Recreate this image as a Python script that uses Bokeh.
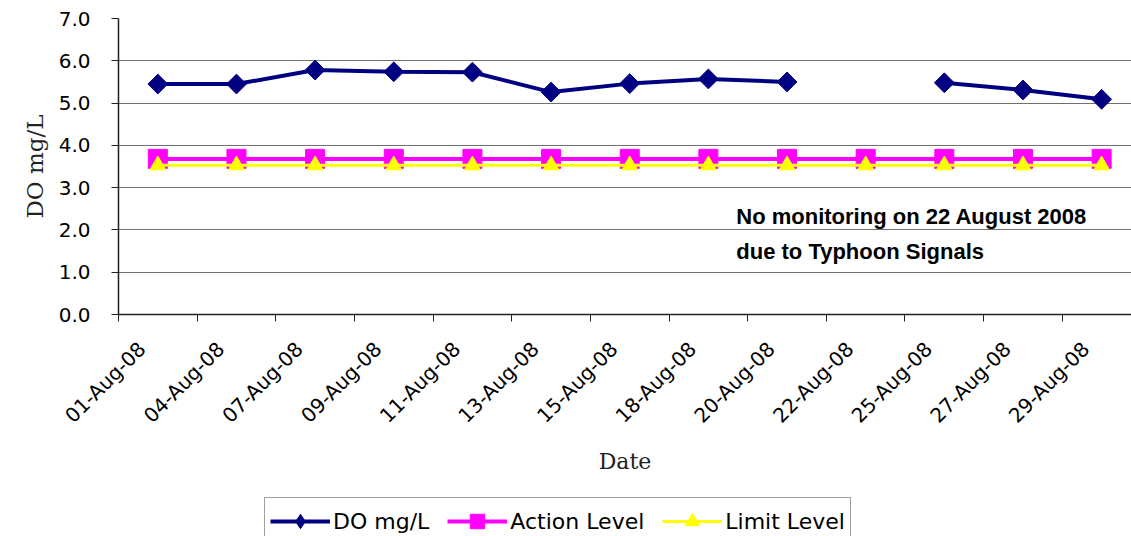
import math
from bokeh.plotting import figure
from bokeh.layouts import column
from bokeh.models import Range1d, FixedTicker, Legend, LegendItem, Label
from bokeh.embed import file_html
from bokeh.resources import INLINE

# ---- data ----
dates = ["01-Aug-08", "04-Aug-08", "07-Aug-08", "09-Aug-08", "11-Aug-08",
         "13-Aug-08", "15-Aug-08", "18-Aug-08", "20-Aug-08", "22-Aug-08",
         "25-Aug-08", "27-Aug-08", "29-Aug-08"]
do_values = [5.45, 5.45, 5.78, 5.74, 5.73, 5.26, 5.46, 5.57, 5.50, None,
             5.48, 5.31, 5.09]
action_level = [3.68, 3.68, 3.68, 3.68, 3.68, 3.68, 3.68, 3.68, 3.68, 3.68,
                3.68, 3.68, 3.68]
limit_level = [3.53, 3.53, 3.53, 3.53, 3.53, 3.53, 3.53, 3.53, 3.53, 3.53,
               3.53, 3.53, 3.53]
y_ticks = [0, 1, 2, 3, 4, 5, 6, 7]
series_names = ["DO mg/L", "Action Level", "Limit Level"]

x = list(range(len(dates)))
do_y = [float("nan") if v is None else v for v in do_values]

DO_COL, ACT_COL, LIM_COL = "#000080", "#FF00FF", "#FFFF00"

p = figure(width=1131, height=495, output_backend="svg", toolbar_location=None,
           x_range=Range1d(-0.5, 12.38), y_range=Range1d(0, 7.0),
           min_border_left=118, min_border_right=0, min_border_top=18,
           min_border_bottom=181)
p.outline_line_color = None
p.background_fill_color = "white"
p.border_fill_color = "white"

# grid
p.xgrid.visible = False
p.ygrid.ticker = FixedTicker(ticks=y_ticks)
p.ygrid.grid_line_color = "#707070"
p.ygrid.grid_line_width = 1

# y axis
yax = p.yaxis[0]
yax.ticker = FixedTicker(ticks=y_ticks)
yax.major_label_overrides = {t: f"{t:.1f}" for t in y_ticks}
yax.major_tick_in = 0
yax.major_tick_out = 7
yax.minor_tick_out = 0
yax.minor_tick_in = 0
yax.axis_line_color = "#202020"
yax.axis_line_width = 1.5
yax.major_tick_line_color = "#202020"
yax.major_label_text_font = "DejaVu Sans"
yax.major_label_text_font_size = "20px"
yax.major_label_text_color = "black"
yax.major_label_standoff = 21
yax.axis_label = "DO mg/L"
yax.axis_label_text_font = "DejaVu Serif"
yax.axis_label_text_font_style = "normal"
yax.axis_label_text_font_size = "23px"
yax.axis_label_text_color = "#222222"
yax.axis_label_standoff = 8

# x axis: labels near category centres, tick marks at category boundaries
label_pos = [i - 0.2 for i in x]
xax = p.xaxis[0]
xax.ticker = FixedTicker(ticks=label_pos,
                         minor_ticks=[i - 0.5 for i in range(len(dates) + 1)])
xax.major_label_overrides = {pos: d for pos, d in zip(label_pos, dates)}
xax.major_label_orientation = math.pi / 4
xax.major_tick_in = 0
xax.major_tick_out = 0
xax.minor_tick_in = 0
xax.minor_tick_out = 7
xax.minor_tick_line_color = "#202020"
xax.axis_line_color = "#202020"
xax.axis_line_width = 1.5
xax.major_label_text_font = "DejaVu Sans"
xax.major_label_text_font_size = "20px"
xax.major_label_text_color = "black"
xax.major_label_standoff = 24
xax.axis_label = "Date"
xax.axis_label_text_font = "DejaVu Serif"
xax.axis_label_text_font_style = "normal"
xax.axis_label_text_font_size = "22px"
xax.axis_label_text_color = "#222222"
xax.axis_label_standoff = 10


def add_series(fig, do_marker, do_angle, do_size):
    l1 = fig.line(x, do_y, line_color=DO_COL, line_width=4)
    s1 = fig.scatter(x, do_y, marker=do_marker, angle=do_angle, size=do_size,
                     fill_color=DO_COL, line_color=DO_COL)
    l2 = fig.line(x, action_level, line_color=ACT_COL, line_width=4)
    s2 = fig.scatter(x, action_level, marker="square", size=19,
                     fill_color=ACT_COL, line_color=ACT_COL)
    l3 = fig.line(x, limit_level, line_color=LIM_COL, line_width=3)
    s3 = fig.scatter(x, limit_level, marker="triangle", size=16,
                     fill_color=LIM_COL, line_color=LIM_COL)
    return [[l1, s1], [l2, s2], [l3, s3]]


add_series(p, "square", math.pi / 4, 14)

# annotation
for txt, yy in [("No monitoring on 22 August 2008", 2.31),
                ("due to Typhoon Signals", 1.49)]:
    p.add_layout(Label(x=7.355, y=yy, text=txt, text_font="Liberation Sans",
                       text_font_style="bold", text_font_size="22px",
                       text_color="black", text_baseline="alphabetic"))

# legend strip below the chart (series drawn out of view, only the key shows)
p2 = figure(width=1131, height=41, output_backend="svg", toolbar_location=None,
            x_range=Range1d(-0.5, 12.38), y_range=Range1d(100, 101),
            x_axis_location=None, y_axis_location=None,
            min_border_left=0, min_border_right=0, min_border_top=0,
            min_border_bottom=0)
p2.outline_line_color = None
p2.xgrid.visible = False
p2.ygrid.visible = False
p2.background_fill_color = "white"
p2.border_fill_color = "white"
rends = add_series(p2, "diamond", 0, 20)

legend = Legend(items=[LegendItem(label=n, renderers=r)
                       for n, r in zip(series_names, rends)],
                location=(146, -9), orientation="horizontal",
                label_text_font="DejaVu Sans", label_text_font_size="22px",
                label_text_color="black", glyph_width=60, glyph_height=36,
                label_standoff=3, spacing=18, padding=5, margin=0,
                border_line_color="#404040", border_line_width=1,
                background_fill_color="white", background_fill_alpha=1)
p2.add_layout(legend, "center")

layout = column(p, p2, spacing=0)
open("out.html", "w").write(file_html(layout, INLINE))
